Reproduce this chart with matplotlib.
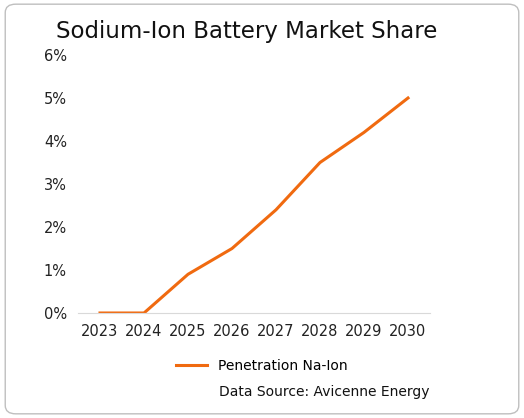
import matplotlib
matplotlib.use("Agg")
import matplotlib.pyplot as plt
from matplotlib.patches import FancyBboxPatch
from matplotlib.ticker import PercentFormatter

years = ["2023","2024","2025","2026","2027","2028","2029","2030"]
share = [0.0, 0.0, 0.9, 1.5, 2.4, 3.5, 4.2, 5.0]

fig = plt.figure(figsize=(5.24,4.18), dpi=100)
fig.patches.append(FancyBboxPatch((0.01,0.01),0.98,0.98,boxstyle="round,pad=0,rounding_size=0.02",
    transform=fig.transFigure, fc="white", ec="#bfbfbf", lw=1, zorder=-10))
ax = fig.add_axes([78/524, 1-313/418, (430-78)/524, (313-55)/418])
ax.set_zorder(5)
x = range(len(years))
ax.plot(x, share, color="#f06a10", lw=2.2, label="Penetration Na-Ion")
ax.set_xlim(-0.5, len(years)-0.5)
ax.set_ylim(0, 6)
ax.set_yticks(range(7))
ax.yaxis.set_major_formatter(PercentFormatter(decimals=0))
ax.set_xticks(list(x)); ax.set_xticklabels(years)
for s in ["top","right","left"]: ax.spines[s].set_visible(False)
ax.spines["bottom"].set_color("#d9d9d9")
ax.tick_params(length=0, labelsize=10.5, colors="#222222", pad=8)
ax.set_facecolor("none")
fig.text(0.47, 0.925, "Sodium-Ion Battery Market Share", ha="center", va="center", fontsize=16.5, color="#111111")
fig.legend(loc="center", bbox_to_anchor=(0.5, 1-366/418), frameon=False, fontsize=10, handlelength=2.2)
fig.text(0.82, 1-392/418, "Data Source: Avicenne Energy", ha="right", va="center", fontsize=10, color="#111111")
fig.savefig("out.png", dpi=100)
